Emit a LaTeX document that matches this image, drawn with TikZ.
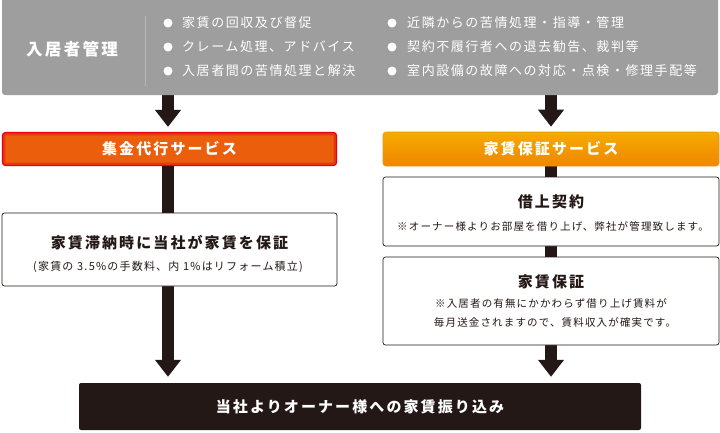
\documentclass[tikz,border=0pt]{standalone}
\usepackage{fontspec}
\newfontfamily\jpT{Noto Sans CJK JP}[LetterSpace=14]
\newfontfamily\jpB{Noto Sans CJK JP}[LetterSpace=12]
\newfontfamily\jpN{Noto Sans CJK JP}[LetterSpace=11]
\usetikzlibrary{arrows.meta,backgrounds}
\definecolor{ink}{HTML}{231815}
\definecolor{greybg}{HTML}{9E9E9E}
\definecolor{sepline}{HTML}{B8B8B8}
\definecolor{redE}{HTML}{E60012}
\definecolor{orgred}{HTML}{EA5E0C}
\definecolor{orgtop}{HTML}{F6AA00}
\definecolor{orgbot}{HTML}{EF8700}
\tikzset{
  headbox/.style={rounded corners=3pt, inner sep=0pt, text=white,
    font=\jpT\bfseries\fontsize{15}{18}\selectfont},
  whitebox/.style={draw=ink, line width=0.7pt, fill=white, rounded corners=2.5pt, inner sep=0pt},
  title/.style={text=ink, inner sep=0pt, font=\jpT\bfseries\fontsize{15}{18}\selectfont},
  note/.style={text=ink, inner sep=0pt, font=\jpN\fontsize{10.5}{13}\selectfont},
  dot/.style={circle, fill=white, inner sep=0pt, minimum size=9pt},
  btxt/.style={text=white, inner sep=0pt, anchor=west, font=\jpB\fontsize{13}{16}\selectfont},
  conn/.style={draw=ink, line width=12pt},
  arr/.style={conn, -{Triangle[width=25pt,length=17pt]}}
}
\begin{document}
\begin{tikzpicture}[x=1pt,y=-1pt]
\useasboundingbox (0,0) rectangle (720,432);
% top grey panel
\node[fill=greybg, rounded corners=3pt, minimum width=716pt, minimum height=100pt, inner sep=0pt] (grey) at (360,45) {};
\node[text=white, inner sep=0pt, font=\jpT\bfseries\fontsize{16.5}{20}\selectfont] (gtitle) at (72,49) {入居者管理};
\coordinate (sepA) at (145,16);
\coordinate (sepB) at (145,86);
\draw[sepline, line width=0.6pt] (sepA) -- (sepB);
% bullets left
\node[dot] (d1) at (168,23) {};
\node[dot] (d2) at (168,47) {};
\node[dot] (d3) at (168,71) {};
\node[btxt] (t1) at (182,23) {家賃の回収及び督促};
\node[btxt] (t2) at (182,47) {クレーム処理、アドバイス};
\node[btxt] (t3) at (182,71) {入居者間の苦情処理と解決};
% bullets right
\node[dot] (d4) at (392,23) {};
\node[dot] (d5) at (392,47) {};
\node[dot] (d6) at (392,71) {};
\node[btxt] (t4) at (407,23) {近隣からの苦情処理・指導・管理};
\node[btxt] (t5) at (407,47) {契約不履行者への退去勧告、裁判等};
\node[btxt] (t6) at (407,71) {室内設備の故障への対応・点検・修理手配等};
% service headers
\node[headbox, fill=orgred, draw=redE, line width=1.2pt, minimum width=334pt, minimum height=33pt] (red) at (169.5,149) {};
\draw[redE, opacity=0.4, line width=3pt, rounded corners=2pt] ([shift={(2pt,2pt)}]red.south west) rectangle ([shift={(-2pt,-2pt)}]red.north east);
\node[headbox] (redt) at (red.center) {集金代行サービス};
\node[headbox, top color=orgtop, bottom color=orgbot, draw=orgbot!90!white, line width=0.6pt, minimum width=336pt, minimum height=34pt] (org) at (551,149) {家賃保証サービス};
% left white box
\node[whitebox, minimum width=335pt, minimum height=73pt] (lw) at (169.5,249.5) {};
\node[title] (lwt) at (169.5,243) {家賃滞納時に当社が家賃を保証};
\node[note, font=\jpN\fontsize{11}{13}\selectfont] (lwn) at (168,267) {(家賃の 3.5\%の手数料、内 1\%はリフォーム積立)};
% right white boxes
\node[whitebox, minimum width=336pt, minimum height=69pt] (rb1) at (551,211.5) {};
\node[title] (rb1t) at (551,202) {借上契約};
\node[note] (rb1n) at (553,226) {※オーナー様よりお部屋を借り上げ、弊社が管理致します。};
\node[whitebox, minimum width=336pt, minimum height=88pt] (rb2) at (551,301) {};
\node[title] (rb2t) at (551,282) {家賃保証};
\node[note] (rb2n1) at (551,303) {※入居者の有無にかかわらず借り上げ賃料が};
\node[note] (rb2n2) at (555,322) {毎月送金されますので、賃料収入が確実です。};
% bottom box
\node[fill=ink, rounded corners=2pt, minimum width=562pt, minimum height=47pt, inner sep=0pt, text=white,
  font=\jpT\bfseries\fontsize{15}{18}\selectfont] (bot) at (360,406.5) {当社よりオーナー様への家賃振り込み};
% connectors
\begin{scope}[on background layer]
\draw[arr, shorten <=-2pt, shorten >=5pt] ([xshift=-1.5pt]grey.south -| red) -- ([xshift=-1.5pt]red.north);
\draw[arr, shorten <=-2pt, shorten >=5pt] (grey.south -| org) -- (org.north);
\draw[conn, shorten <=-2pt, shorten >=-2pt] ([xshift=-1.5pt]red.south) -- ([xshift=-1.5pt]lw.north);
\draw[conn, shorten <=-2pt, shorten >=-2pt] (org.south) -- (rb1.north);
\draw[conn, shorten <=-2pt, shorten >=-2pt] (rb1.south) -- (rb2.north);
\draw[arr, shorten <=-2pt, shorten >=6pt] ([xshift=-1.5pt]lw.south) -- ([xshift=-1.5pt]lw.south |- bot.north);
\draw[arr, shorten <=-2pt, shorten >=6pt] (rb2.south) -- (rb2.south |- bot.north);
\end{scope}
\end{tikzpicture}
\end{document}
